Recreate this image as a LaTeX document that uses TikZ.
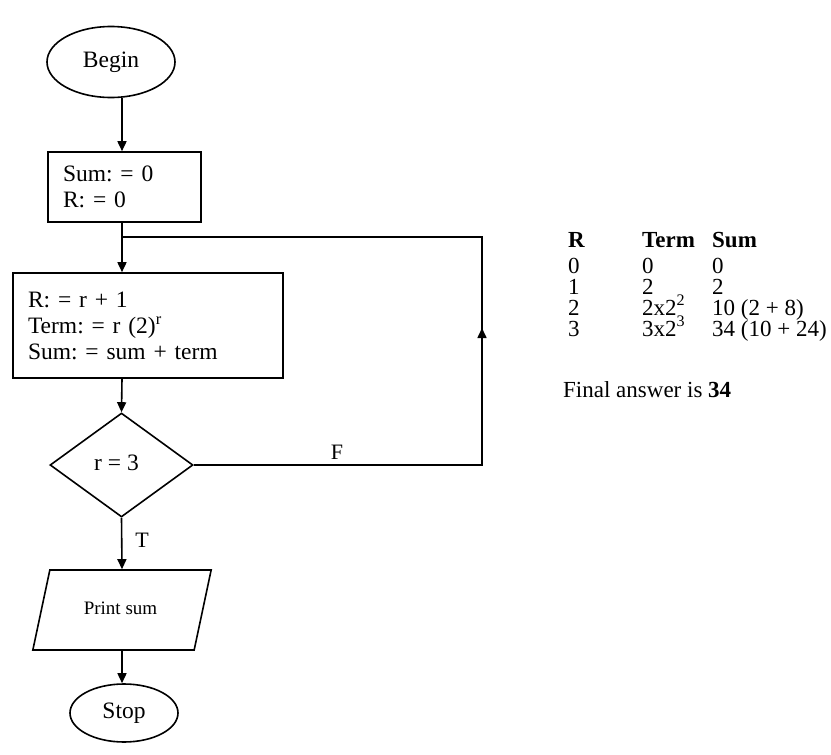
\documentclass[tikz,border=0pt]{standalone}
\usepackage{fontspec}
\setmainfont{Liberation Serif}
\usetikzlibrary{shapes.geometric,arrows.meta}
\frenchspacing
\tikzset{
  base/.style={font=\fontsize{23.5}{26}\selectfont},
  startstop/.style={base, draw, line width=1.6pt, ellipse, inner sep=0pt},
  procbox/.style={base, draw, line width=1.6pt, rectangle, align=left, inner xsep=15pt, inner ysep=0pt},
  decision/.style={base, draw, line width=1.6pt, diamond, inner sep=0pt, minimum width=143pt, minimum height=104pt},
  iobox/.style={draw, line width=1.6pt, trapezium, trapezium left angle=60, trapezium right angle=120, trapezium stretches=true, inner sep=0pt, minimum width=180pt, minimum height=80pt, font=\fontsize{19}{22}\selectfont},
  arr/.style={line width=1.6pt, -{Triangle[length=10pt,width=9pt]}},
  conn/.style={line width=1.6pt},
  lbl/.style={font=\fontsize{22}{24}\selectfont, inner sep=0pt},
  tbl/.style={font=\fontsize{23}{25}\selectfont, inner sep=0pt, anchor=base west, text height=14pt, text depth=0pt}
}
\begin{document}
\begin{tikzpicture}[x=1pt,y=-1pt]
\useasboundingbox (0,0) rectangle (831,755);
% flowchart nodes
\node[startstop, minimum width=128pt, minimum height=71pt] (begin) at (111,62) {Begin};
\node[procbox, minimum width=153pt, minimum height=70pt, text width=123pt] (init) at (124.5,187) {Sum: = 0\\R: = 0};
\coordinate (j) at (122,237);
\node[procbox, minimum width=270pt, minimum height=105pt, text width=240pt] (loop) at (148,325.5) {R: = r + 1\\Term: = r (2)\textsuperscript{r}\\Sum: = sum + term};
\node[decision] (dia) at (121.5,465) {\raisebox{5pt}{r = 3}\hspace*{10pt}};
\node[iobox] (print) at (122,610) {\raisebox{3pt}{Print sum}\hspace*{3pt}};
\node[startstop, minimum width=108pt, minimum height=58pt] (stop) at (124,713) {Stop};
\coordinate (fr) at (482,465);
\coordinate (tr) at (482,237);
\coordinate (mid) at (482,328);
% connectors
\draw[arr] (begin.south -| j) -- (init.north -| j);
\draw[conn] (init.south -| j) -- (j);
\draw[arr] (j) -- (loop.north -| j);
\draw[arr] (loop.south -| j) -- (dia.north);
\draw[conn] (dia.east) -- (fr) -- (tr) -- (j);
\draw[arr] (fr) -- (mid);
\draw[arr] (dia.south) -- (print.north);
\draw[arr] (print.south) -- (stop.north -| print.south);
\node[lbl] (F) at (337,452) {F};
\node[lbl] (T) at (142,540) {T};
% table
\node[tbl] (hR) at (568,247) {\textbf{R}};
\node[tbl] (hT) at (642,247) {\textbf{Term}};
\node[tbl] (hS) at (712,247) {\textbf{Sum}};
\node[tbl] (r0a) at (568,273) {0};
\node[tbl] (r0b) at (642,273) {0};
\node[tbl] (r0c) at (712,273) {0};
\node[tbl] (r1a) at (568,294) {1};
\node[tbl] (r1b) at (642,294) {2};
\node[tbl] (r1c) at (712,294) {2};
\node[tbl] (r2a) at (568,315) {2};
\node[tbl] (r2b) at (642,315) {2x2\textsuperscript{2}};
\node[tbl] (r2c) at (712,315) {10 (2 + 8)};
\node[tbl] (r3a) at (568,336) {3};
\node[tbl] (r3b) at (642,336) {3x2\textsuperscript{3}};
\node[tbl] (r3c) at (712,336) {34 (10 + 24)};
\node[tbl] (final) at (563,397) {Final answer is \textbf{34}};
\end{tikzpicture}
\end{document}
